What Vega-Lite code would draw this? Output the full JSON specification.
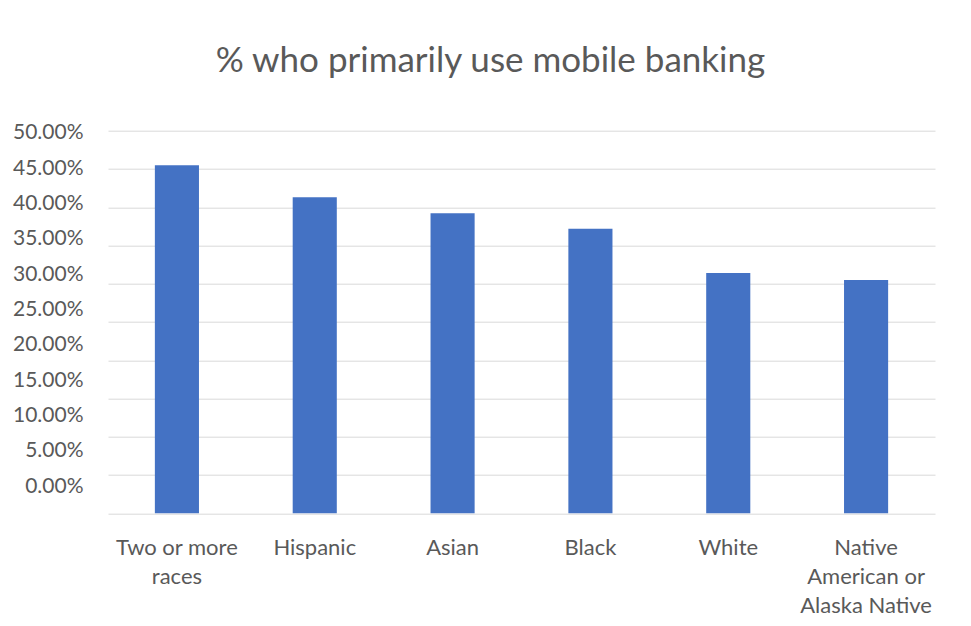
{
  "$schema": "https://vega.github.io/schema/vega-lite/v6.json",
  "width": 827,
  "height": 382.6,
  "autosize": {"type": "none"},
  "padding": {"left": 108, "top": 130.7, "right": 36, "bottom": 112.7},
  "background": "white",
  "config": {"view": {"stroke": null}, "font": "Lato"},
  "title": {
    "text": "% who primarily use mobile banking",
    "fontSize": 35,
    "font": "Lato",
    "fontWeight": "normal",
    "color": "#595959",
    "anchor": "middle",
    "dx": -31,
    "offset": 43
  },
  "data": {
    "values": [
      {"race": "Two or more races", "pct": 0.455},
      {"race": "Hispanic", "pct": 0.413},
      {"race": "Asian", "pct": 0.392},
      {"race": "Black", "pct": 0.372},
      {"race": "White", "pct": 0.314},
      {"race": "Native American or Alaska Native", "pct": 0.305}
    ]
  },
  "encoding": {
    "x": {
      "field": "race",
      "type": "nominal",
      "sort": null,
      "scale": {"paddingInner": 0.68, "paddingOuter": 0.34},
      "axis": {
        "title": null,
        "domain": false,
        "ticks": false,
        "labelAngle": 0,
        "labelFontSize": 22,
        "labelColor": "#595959",
        "labelPadding": 24,
        "labelLineHeight": 29,
        "labelLimit": 400,
        "labelExpr": "datum.value == 'Two or more races' ? ['Two or more', 'races'] : datum.value == 'Native American or Alaska Native' ? ['Native', 'American or', 'Alaska Native'] : datum.value"
      }
    }
  },
  "layer": [
    {
      "mark": {"type": "bar", "color": "#4472C4"},
      "encoding": {
        "y": {
          "field": "pct",
          "type": "quantitative",
          "scale": {"domain": [0, 0.5], "nice": false},
          "axis": {
            "grid": true,
            "gridColor": "#d9d9d9",
            "gridWidth": 1,
            "labels": false,
            "ticks": false,
            "domain": false,
            "title": null,
            "values": [0, 0.05, 0.1, 0.15, 0.2, 0.25, 0.3, 0.35, 0.4, 0.45, 0.5]
          }
        }
      }
    },
    {
      "mark": {"type": "point", "opacity": 0},
      "encoding": {
        "y": {
          "field": "pct",
          "type": "quantitative",
          "scale": {"domain": [-0.0386, 0.5028], "nice": false, "zero": false},
          "axis": {
            "orient": "left",
            "grid": false,
            "ticks": false,
            "domain": false,
            "title": null,
            "values": [0, 0.05, 0.1, 0.15, 0.2, 0.25, 0.3, 0.35, 0.4, 0.45, 0.5],
            "format": ".2%",
            "labelFontSize": 21,
            "labelColor": "#595959",
            "labelPadding": 25,
            "labelFlush": false,
            "labelOverlap": false
          }
        }
      }
    }
  ],
  "resolve": {"scale": {"y": "independent"}}
}
